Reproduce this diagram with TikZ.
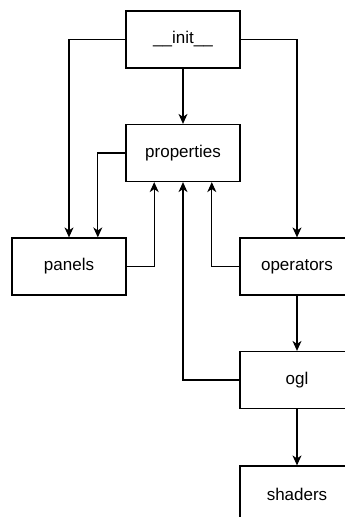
\documentclass[tikz,border=0pt]{standalone}
\usepackage{fontspec}
\setmainfont{Liberation Sans}
\usetikzlibrary{arrows.meta,calc,positioning}

\begin{document}
\begin{tikzpicture}[x=1pt,y=1pt,yscale=-1,
  modbox/.style={draw,line width=1.2pt,minimum width=114pt,minimum height=57pt,inner sep=0pt,font=\fontsize{17}{20}\selectfont},
  link/.style={line width=1.2pt,-{Stealth[length=10pt,width=9pt,inset=3pt]}}]
\clip (0,0) rectangle (345,517);

% Modules
\node[modbox] (init) at (183,39.5) {\_\_init\_\_};
\node[modbox] (props) at (183,153) {properties};
\node[modbox] (panels) at (69,266.5) {panels};
\node[modbox] (operators) at (297,266.5) {operators};
\node[modbox] (ogl) at (297,380) {ogl};
\node[modbox] (shaders) at (297,494.5) {shaders};

% Imports
\draw[link] (init.west) -| (panels.north);
\draw[link] (init.east) -| (operators.north);
\draw[link] (init) -- (props);
\draw[link] (props.west) -| ($(panels.north west)!0.75!(panels.north east)$);
\draw[link] (panels.east) -| ($(props.south west)!0.25!(props.south east)$);
\draw[link] (operators.west) -| ($(props.south west)!0.75!(props.south east)$);
\draw[link] (ogl.west) -| (props.south);
\draw[link] (operators) -- (ogl);
\draw[link] (ogl) -- (shaders);

\end{tikzpicture}
\end{document}
